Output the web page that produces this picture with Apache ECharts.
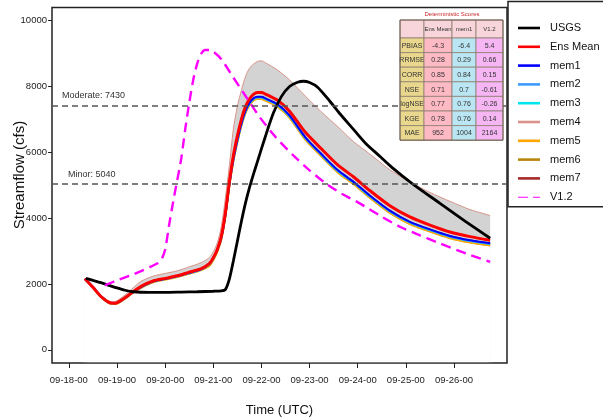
<!DOCTYPE html>
<html>
<head>
<meta charset="utf-8">
<script src="https://cdn.jsdelivr.net/npm/echarts@6/dist/echarts.min.js"></script>
<style>
  html, body { margin: 0; padding: 0; background: #fff; }
  #chart { width: 603px; height: 419px; }
</style>
</head>
<body>
<div id="chart"></div>
<script>
// ---- data (hours after 09-18-00 UTC, streamflow in cfs) ----
const tickHours = [0, 24, 48, 72, 96, 120, 144, 168, 192];
const tickLabels = ['09-18-00', '09-19-00', '09-20-00', '09-21-00', '09-22-00', '09-23-00', '09-24-00', '09-25-00', '09-26-00'];
const yTicks = [0, 2000, 4000, 6000, 8000, 10000];

const thresholdNames = ['Moderate', 'Minor'];
const thresholdValues = [7430, 5040];

const usgsHours = [8.5, 12, 16, 20, 24, 28, 32, 40, 48, 56, 64, 72, 76, 78, 80, 82, 84, 86, 88, 90, 92, 94, 98, 102, 106, 110, 114, 117, 120, 124, 130, 135, 142, 148, 155, 161, 171, 185, 198, 210];
const usgs = [2170, 2110, 2040, 1960, 1880, 1810, 1765, 1745, 1745, 1755, 1765, 1780, 1790, 1830, 2150, 2700, 3300, 3900, 4450, 4920, 5330, 5720, 6490, 7200, 7700, 8000, 8130, 8160, 8120, 7980, 7560, 7180, 6690, 6270, 5880, 5545, 5060, 4450, 3890, 3390];

const modelHours = [8, 12, 16, 20, 22, 24, 28, 32, 36, 42, 48, 54, 60, 66, 70, 72, 74, 76, 78, 80, 82, 84, 86, 88, 90, 92, 94, 96, 98, 104, 110, 118, 126, 134, 142, 150, 160, 170, 180, 190, 200, 210];
const ensMean = [2160, 1900, 1620, 1440, 1415, 1430, 1580, 1765, 1930, 2090, 2170, 2250, 2360, 2470, 2620, 2800, 3050, 3450, 4150, 5100, 5900, 6500, 7000, 7380, 7620, 7760, 7820, 7820, 7770, 7580, 7250, 6600, 6100, 5620, 5250, 4840, 4380, 4040, 3790, 3580, 3440, 3330];
const mem1 = [2160, 1910, 1630, 1440, 1420, 1430, 1580, 1760, 1910, 2080, 2160, 2240, 2340, 2450, 2620, 2800, 3050, 3430, 4110, 5050, 5800, 6380, 6880, 7260, 7500, 7640, 7690, 7690, 7640, 7460, 7120, 6450, 5940, 5460, 5100, 4690, 4230, 3890, 3660, 3460, 3330, 3240];
const mem2 = [2160, 1905, 1625, 1435, 1415, 1425, 1575, 1755, 1905, 2075, 2155, 2235, 2335, 2445, 2605, 2785, 3035, 3415, 4095, 5035, 5785, 6365, 6865, 7245, 7485, 7625, 7675, 7675, 7625, 7445, 7105, 6435, 5925, 5445, 5085, 4675, 4215, 3875, 3645, 3445, 3315, 3225];
const mem3 = [2160, 1900, 1620, 1430, 1410, 1420, 1570, 1750, 1900, 2070, 2150, 2230, 2330, 2440, 2595, 2775, 3025, 3405, 4085, 5025, 5775, 6355, 6855, 7235, 7475, 7615, 7665, 7665, 7615, 7435, 7095, 6425, 5915, 5435, 5075, 4665, 4205, 3865, 3635, 3435, 3305, 3215];
const mem4 = [2160, 1920, 1650, 1480, 1460, 1490, 1670, 1880, 2080, 2240, 2320, 2400, 2520, 2650, 2800, 2980, 3250, 3750, 4600, 5600, 6700, 7400, 7880, 8300, 8550, 8680, 8760, 8780, 8720, 8500, 8200, 7700, 7220, 6780, 6320, 5950, 5470, 5100, 4780, 4510, 4260, 4080];
const mem5 = [2160, 1885, 1605, 1415, 1395, 1405, 1555, 1735, 1885, 2055, 2135, 2215, 2315, 2425, 2550, 2730, 2980, 3360, 4040, 4980, 5730, 6310, 6810, 7190, 7430, 7570, 7620, 7620, 7570, 7390, 7050, 6380, 5870, 5390, 5030, 4620, 4160, 3820, 3590, 3390, 3260, 3170];
const mem6 = [2160, 1890, 1610, 1420, 1400, 1410, 1560, 1740, 1890, 2060, 2140, 2220, 2320, 2430, 2560, 2740, 2990, 3370, 4050, 4990, 5740, 6320, 6820, 7200, 7440, 7580, 7630, 7630, 7580, 7400, 7060, 6390, 5880, 5400, 5040, 4630, 4170, 3830, 3600, 3400, 3270, 3180];
const mem7 = [2160, 1910, 1630, 1440, 1420, 1430, 1580, 1760, 1910, 2080, 2160, 2240, 2340, 2450, 2610, 2790, 3040, 3420, 4100, 5040, 5790, 6370, 6870, 7250, 7490, 7630, 7680, 7680, 7630, 7450, 7110, 6440, 5930, 5450, 5090, 4680, 4220, 3880, 3650, 3450, 3320, 3230];

const v12Hours = [18, 20, 24, 28, 32, 36, 40, 44, 46, 48, 50, 52, 54, 56, 58, 60, 62, 64, 66, 68, 70, 72, 76, 82, 88, 95, 103, 112, 120, 128, 136, 145, 155, 165, 175, 185, 198, 210];
const v12 = [1960, 2010, 2110, 2200, 2290, 2390, 2500, 2620, 2720, 3050, 3800, 4500, 5150, 5800, 6700, 7500, 8200, 8700, 9000, 9110, 9110, 9060, 8830, 8270, 7720, 7080, 6470, 5900, 5450, 5060, 4740, 4450, 4080, 3740, 3480, 3230, 2930, 2670];

// score table
const scoreTitle = 'Deterministic Scores';
const scoreCols = ['Ens Mean', 'mem1', 'V1.2'];
const scoreNames = ['PBIAS', 'RRMSE', 'CORR', 'NSE', 'logNSE', 'KGE', 'MAE'];
const ensScores = ['-4.3', '0.28', '0.85', '0.71', '0.77', '0.78', '952'];
const mem1Scores = ['-6.4', '0.29', '0.84', '0.7', '0.76', '0.76', '1004'];
const v12Scores = ['5.4', '0.66', '0.15', '-0.61', '-0.26', '0.14', '2164'];

// ---- chart ----
const FONT = '"Liberation Sans", Arial, sans-serif';
const NARROW = '"Liberation Sans Narrow", "Liberation Sans", Arial, sans-serif';
const SMOOTH = 0.25;

function pairs(hours, vals) {
  return hours.map((h, i) => [h, vals[i]]);
}

function lineSeries(name, hours, vals, color, width, extra) {
  return Object.assign({
    name: name,
    type: 'line',
    data: pairs(hours, vals),
    showSymbol: false,
    symbol: 'none',
    smooth: SMOOTH,
    silent: true,
    lineStyle: { color: color, width: width },
    itemStyle: { color: color }
  }, extra || {});
}

// ensemble envelope (gray band between lowest and highest member)
const members = [mem1, mem2, mem3, mem4, mem5, mem6, mem7];
const bandLow = modelHours.map((h, i) => Math.min(...members.map(m => m[i])));
const bandHigh = modelHours.map((h, i) => Math.max(...members.map(m => m[i])));

function buildTable() {
  const x0 = 400, y0 = 20, colW = [24, 28, 24, 27], headH = 18, rowH = 14.6;
  const colX = [x0];
  colW.forEach(w => colX.push(colX[colX.length - 1] + w));
  const heads = [''].concat(scoreCols);
  const cols = [scoreNames, ensScores, mem1Scores, v12Scores];
  const fills = ['#E8D78C', '#FDB9C4', '#B9E6F2', '#F6B6F4'];
  const stroke = '#8E7F70';
  const els = [];
  const txt = (s, cx, cy, size, color) => ({
    type: 'text', z: 100,
    style: {
      text: s, x: cx, y: cy, fill: color || '#333',
      font: size + 'px ' + NARROW,
      align: 'center', verticalAlign: 'middle',
      textAlign: 'center', textVerticalAlign: 'middle'
    }
  });
  els.push(txt(scoreTitle, x0 + 52, 14.5, 6, '#C62828'));
  for (let c = 0; c < 4; c++) {
    els.push({ type: 'rect', z: 100, shape: { x: colX[c], y: y0, width: colW[c], height: headH },
      style: { fill: '#F7D5DB', stroke: stroke, lineWidth: 0.8 } });
    els.push(txt(heads[c], colX[c] + colW[c] / 2, y0 + headH / 2, 6));
    for (let r = 0; r < scoreNames.length; r++) {
      const ry = y0 + headH + r * rowH;
      els.push({ type: 'rect', z: 100, shape: { x: colX[c], y: ry, width: colW[c], height: rowH },
        style: { fill: fills[c], stroke: stroke, lineWidth: 0.8 } });
      els.push(txt(cols[c][r], colX[c] + colW[c] / 2, ry + rowH / 2 + 0.5, 7));
    }
  }
  els.push({ type: 'rect', z: 101, shape: { x: x0, y: y0, width: colX[4] - x0, height: headH + rowH * 7 },
    style: { fill: 'none', stroke: '#6E6050', lineWidth: 1 } });
  return els;
}

const legendNames = ['USGS', 'Ens Mean', 'mem1', 'mem2', 'mem3', 'mem4', 'mem5', 'mem6', 'mem7', 'V1.2'];

const chart = echarts.init(document.getElementById('chart'), null, { renderer: 'canvas' });

const option = {
  animation: false,
  backgroundColor: '#fff',
  textStyle: { fontFamily: FONT },
  grid: {
    left: 52, right: 96, top: 7.5, bottom: 56,
    outerBoundsMode: 'none',
    show: true, borderColor: '#222', borderWidth: 1.5, backgroundColor: 'transparent'
  },
  legend: {
    data: legendNames.map(n => ({
      name: n,
      icon: n === 'V1.2' ? 'path://M0,0h10v1h-10z M15,0h7v1h-7z' : 'rect'
    })),
    orient: 'vertical',
    left: 508, top: 1.5,
    padding: [20.5, 80, 3.5, 10],
    itemWidth: 22, itemHeight: 2.6, itemGap: 6.8,
    borderColor: '#222', borderWidth: 1.5,
    textStyle: { fontSize: 11, color: '#111', fontFamily: FONT, lineHeight: 12, padding: [0, 0, 0, 5] },
    selectedMode: false
  },
  xAxis: {
    type: 'value',
    min: -8.4, max: 218.4,
    name: 'Time (UTC)',
    nameLocation: 'middle',
    nameGap: 40.5,
    nameTextStyle: { fontSize: 13, color: '#111', fontFamily: FONT },
    axisLine: { show: false, onZero: false },
    splitLine: { show: false },
    axisTick: { show: true, customValues: tickHours, length: 5, lineStyle: { color: '#222', width: 1 } },
    axisLabel: {
      customValues: tickHours,
      formatter: v => tickLabels[tickHours.indexOf(v)] || '',
      margin: 12, fontSize: 9.5, color: '#222', fontFamily: FONT
    }
  },
  yAxis: {
    type: 'value',
    min: -400, max: 10400,
    axisLine: { show: false, onZero: false },
    splitLine: { show: false },
    axisTick: { show: true, customValues: yTicks, length: 4, lineStyle: { color: '#222', width: 1 } },
    axisLabel: {
      customValues: yTicks,
      formatter: v => String(v),
      margin: 5, fontSize: 9.5, color: '#222', fontFamily: FONT
    }
  },
  graphic: [
    {
      type: 'text', x: 20, y: 175, rotation: Math.PI / 2,
      style: {
        text: 'Streamflow (cfs)', font: '15px ' + FONT, fill: '#111',
        align: 'center', verticalAlign: 'middle', textAlign: 'center', textVerticalAlign: 'middle'
      }
    },
    { type: 'group', z: 100, children: buildTable() }
  ],
  series: [
    // gray fill up to the highest member, then white fill up to the lowest member
    lineSeries('bandHigh', modelHours, bandHigh, '#D3D3D3', 0, {
      lineStyle: { width: 0, opacity: 0 }, areaStyle: { color: '#D3D3D3', opacity: 1, origin: -330 }
    }),
    lineSeries('bandLow', modelHours, bandLow, '#FFFFFF', 0, {
      lineStyle: { width: 0, opacity: 0 },
      areaStyle: { color: '#FFFFFF', opacity: 1, origin: -330, shadowColor: '#FFFFFF', shadowBlur: 4 }
    }),
    lineSeries('mem6', modelHours, mem6, '#B8860B', 2),
    lineSeries('mem5', modelHours, mem5, '#FFA500', 2),
    lineSeries('mem7', modelHours, mem7, '#A52A2A', 2),
    lineSeries('mem4', modelHours, mem4, '#D9938A', 1),
    lineSeries('mem3', modelHours, mem3, '#00E5EE', 2),
    lineSeries('mem2', modelHours, mem2, '#3D9BFF', 2),
    lineSeries('mem1', modelHours, mem1, '#0000FF', 2),
    lineSeries('Ens Mean', modelHours, ensMean, '#FF0000', 3),
    lineSeries('USGS', usgsHours, usgs, '#000000', 2.8, {
      markLine: {
        silent: true,
        symbol: ['none', 'none'],
        lineStyle: { color: '#555', type: [6, 4], width: 1.6 },
        data: thresholdNames.map((n, i) => ({
          yAxis: thresholdValues[i],
          label: {
            show: true,
            position: 'insideStartTop',
            distance: [i === 0 ? 10 : 16, 5],
            formatter: n + ': ' + thresholdValues[i],
            fontSize: 9, color: '#333', fontFamily: FONT
          }
        }))
      }
    }),
    lineSeries('V1.2', v12Hours, v12, '#FF00FF', 2.4, { lineStyle: { color: '#FF00FF', width: 2.4, type: [10, 6] } })
  ]
};

chart.setOption(option);
</script>
</body>
</html>
